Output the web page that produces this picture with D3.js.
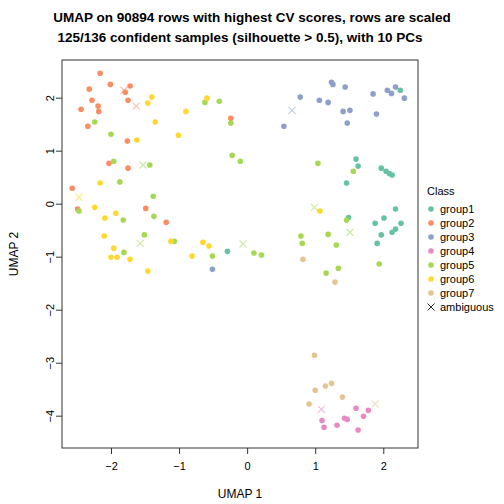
<!DOCTYPE html><html><head><meta charset="utf-8"><script src="https://cdn.jsdelivr.net/npm/d3@7"></script>
<style>body{margin:0;background:#fff}text{font-family:Helvetica,Arial,"Liberation Sans",sans-serif}</style></head><body><svg id="c" width="504" height="504"></svg><script>
const classes=["group1","group2","group3","group4","group5","group6","group7"];
const colors=["#66C2A5","#FC8D62","#8DA0CB","#E78AC3","#A6D854","#FFD92F","#E5C494"];
const group1=[[-0.29,-0.89],[2.25,2.15],[1.60,0.85],[1.63,0.72],[1.46,0.40],[1.97,0.68],[2.04,0.62],[2.09,0.58],[2.13,0.55],[1.49,-0.25],[1.88,-0.36],[2.01,-0.26],[2.18,-0.09],[2.26,-0.36],[2.18,-0.47],[2.13,-0.53],[1.97,-0.58],[1.91,-0.74]];
const group2=[[-2.16,2.47],[-2.01,2.26],[-2.32,2.17],[-1.72,2.23],[-1.79,2.11],[-2.28,1.96],[-1.75,1.96],[-2.19,1.85],[-2.44,1.79],[-2.18,1.75],[-2.34,1.47],[-1.76,1.19],[-2.03,0.77],[-1.75,0.68],[-2.57,0.30],[-0.24,1.62],[-2.49,-0.09],[-1.49,-0.08],[-1.19,-0.34]];
const group3=[[1.24,2.30],[1.26,2.26],[1.44,2.21],[0.78,2.02],[1.06,1.96],[1.19,1.92],[1.41,1.75],[1.51,1.77],[1.47,1.53],[0.54,1.47],[1.85,2.08],[2.06,2.15],[2.12,2.09],[2.18,2.21],[2.31,2.00],[1.90,1.70],[-0.51,-1.23]];
const group4=[[1.60,-3.85],[1.78,-3.89],[1.71,-4.00],[1.43,-4.04],[1.47,-4.06],[1.10,-4.08],[1.13,-4.21],[1.32,-4.17],[1.63,-4.26]];
const group5=[[-2.24,1.55],[-2.00,1.32],[-1.96,0.81],[-1.43,0.74],[-1.87,0.42],[-1.38,0.15],[-0.62,1.92],[-0.41,1.94],[-0.24,1.53],[-0.22,0.92],[-0.10,0.81],[-2.47,-0.13],[-1.82,-0.30],[-1.37,-0.23],[-1.51,-0.58],[-1.81,-0.91],[-1.07,-0.70],[-0.51,-0.98],[0.10,-0.92],[0.21,-0.96],[1.04,0.77],[1.56,0.62],[1.46,-0.30],[0.79,-0.60],[0.81,-0.74],[1.19,-0.57],[1.31,-0.77],[1.34,-1.21],[1.16,-1.30],[1.94,-1.13]];
const group6=[[-1.40,2.02],[-1.46,1.91],[-0.59,2.00],[-0.90,1.75],[-1.35,1.55],[-1.62,1.21],[-1.01,1.30],[-2.16,0.40],[-2.24,-0.06],[-2.09,-0.26],[-1.93,-0.17],[-2.10,-0.60],[-1.96,-0.83],[-2.00,-1.00],[-1.91,-1.00],[-1.72,-1.04],[-1.46,-1.26],[-1.12,-0.70],[-0.65,-0.72],[-0.56,-0.79],[-0.81,-0.98],[1.07,-0.13]];
const group7=[[0.82,-1.04],[1.29,-1.47],[0.99,-2.85],[1.24,-3.38],[1.15,-3.43],[1.00,-3.51],[1.40,-3.64],[0.91,-3.77]];
const ambiguous=[[-1.81,2.15,1],[-1.63,1.85,1],[-1.53,0.74,4],[-2.47,0.13,5],[-1.57,-0.74,4],[-0.06,-0.75,4],[0.66,1.77,2],[0.99,-0.06,4],[1.51,-0.53,4],[1.88,-3.77,6],[1.09,-3.87,3]];
const xTicks=[-2,-1,0,1,2], yTicks=[-4,-3,-2,-1,0,1,2];
const svg=d3.select("#c");
const L=62,R=418,T=60,B=448;
const x=d3.scaleLinear().domain([-2.72,2.51]).range([L,R]);
const y=d3.scaleLinear().domain([-4.6,2.72]).range([B,T]);
svg.append("rect").attr("x",L).attr("y",T).attr("width",R-L).attr("height",B-T).attr("fill","none").attr("stroke","#333");
const xa=svg.append("g").attr("transform",`translate(0,${B})`).call(d3.axisBottom(x).tickValues(xTicks).tickSize(6).tickPadding(8).tickFormat(d3.format("d")));
const ya=svg.append("g").attr("transform",`translate(${L},0)`).call(d3.axisLeft(y).tickValues(yTicks).tickSize(6).tickPadding(6).tickFormat(d3.format("d")));
[xa,ya].forEach(a=>{a.select(".domain").remove();a.selectAll("text").attr("font-size",11).attr("fill","#000");a.selectAll("line").attr("stroke","#333");});
ya.selectAll("text").attr("transform",function(){const t=d3.select(this);return null}).each(function(d){d3.select(this).attr("transform",`rotate(-90,${-12},${y(d)})`).attr("x",-12).attr("y",y(d)).attr("dy","0.35em").attr("text-anchor","middle");});
ya.selectAll(".tick").attr("transform",null);
ya.selectAll(".tick line").attr("y1",d=>y(d)).attr("y2",d=>y(d));
const groups=[group1,group2,group3,group4,group5,group6,group7];
groups.forEach((g,i)=>{svg.append("g").selectAll("circle").data(g).join("circle").attr("cx",d=>x(d[0])).attr("cy",d=>y(d[1])).attr("r",2.8).attr("fill",colors[i]);});
const s=3.5;
svg.append("g").selectAll("path").data(ambiguous).join("path").attr("d",d=>{const cx=x(d[0]),cy=y(d[1]);return `M${cx-s},${cy-s}L${cx+s},${cy+s}M${cx-s},${cy+s}L${cx+s},${cy-s}`}).attr("stroke",d=>colors[d[2]]).attr("stroke-opacity",0.55).attr("stroke-width",1.2).attr("fill","none");
svg.append("text").attr("x",252).attr("y",22).attr("text-anchor","middle").attr("font-size",13.5).attr("font-weight","bold").text("UMAP on 90894 rows with highest CV scores, rows are scaled");
svg.append("text").attr("x",240).attr("y",42).attr("text-anchor","middle").attr("font-size",13.5).attr("font-weight","bold").text("125/136 confident samples (silhouette > 0.5), with 10 PCs");
svg.append("text").attr("x",240).attr("y",498).attr("text-anchor","middle").attr("font-size",12).text("UMAP 1");
svg.append("text").attr("transform","translate(18,254) rotate(-90)").attr("text-anchor","middle").attr("font-size",12).text("UMAP 2");
svg.append("text").attr("x",427).attr("y",195).attr("font-size",11).text("Class");
const leg=classes.concat(["ambiguous"]);
leg.forEach((c,i)=>{const ly=209+i*14;
 if(i<7) svg.append("circle").attr("cx",431).attr("cy",ly).attr("r",2.8).attr("fill",colors[i]);
 else svg.append("path").attr("d",`M${431-s},${ly-s}L${431+s},${ly+s}M${431-s},${ly+s}L${431+s},${ly-s}`).attr("stroke","#333").attr("stroke-width",1);
 svg.append("text").attr("x",440).attr("y",ly).attr("dy","0.35em").attr("font-size",11).text(c);});
</script></body></html>
